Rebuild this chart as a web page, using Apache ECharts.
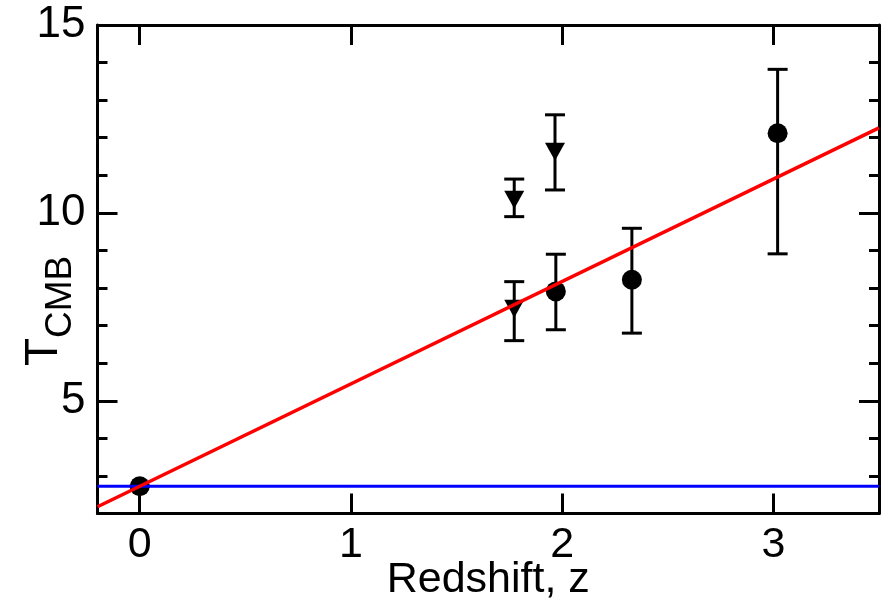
<!DOCTYPE html>
<html>
<head>
<meta charset="utf-8">
<script src="https://cdn.jsdelivr.net/npm/echarts@6/dist/echarts.min.js"></script>
<style>html,body{margin:0;padding:0;background:#fff}#c{width:887px;height:600px}</style>
</head>
<body>
<div id="c"></div>
<script>
// ---- data ----
const xTickValues = [0, 1, 2, 3];
const yTickValues = [5, 10, 15];
const xRange = [-0.2, 3.5];
const yRange = [2, 15];
const T0 = 2.725;                       // present-day CMB temperature (blue line)

// circles: z, T, lower, upper
const circZ  = [0, 1.97, 2.33, 3.02];
const circT  = [2.725, 7.91, 8.22, 12.12];
const circLo = [2.725, 6.89, 6.80, 8.91];
const circHi = [2.725, 8.90, 9.59, 13.82];

// down-triangles: z, T, lower, upper
const triZ  = [1.773, 1.773, 1.966];
const triT  = [10.35, 7.45, 11.63];
const triLo = [9.90, 6.60, 10.61];
const triHi = [10.90, 8.17, 12.61];

const xTitle = 'Redshift, z';
const yTitleMain = 'T';
const yTitleSub = 'CMB';

// ---- build ----
const font = 'Liberation Sans, Arial, Helvetica, sans-serif';
const circData = circZ.map((z, i) => [z, circT[i]]);
const triData = triZ.map((z, i) => [z, triT[i]]);
const errData = circZ.map((z, i) => [z, circLo[i], circHi[i]])
  .concat(triZ.map((z, i) => [z, triLo[i], triHi[i]]));
const blueData = xRange.map(z => [z, T0]);
const redData = xRange.map(z => [z, T0 * (1 + z)]);

const lineStyle = { color: '#000', width: 3 };
function xAx(pos, labels) {
  return {
    type: 'value', position: pos, min: xRange[0], max: xRange[1],
    axisLine: { show: true, onZero: false, lineStyle },
    axisTick: { show: true, inside: true, length: 20, lineStyle, customValues: xTickValues },
    axisLabel: labels ? { show: true, customValues: xTickValues, fontSize: 43, color: '#000', fontFamily: font, margin: 10 } : { show: false },
    splitLine: { show: false },
    name: labels ? xTitle : '',
    nameLocation: 'middle', nameGap: 45, nameMoveOverlap: false,
    nameTextStyle: { fontSize: 43, color: '#000', fontFamily: font }
  };
}
function yMaj(pos, labels) {
  return {
    type: 'value', position: pos, min: yRange[0], max: yRange[1],
    axisLine: { show: true, onZero: false, lineStyle },
    axisTick: { show: true, inside: true, length: 20, lineStyle, customValues: yTickValues },
    axisLabel: labels ? { show: true, customValues: yTickValues, fontSize: 44, color: '#000', fontFamily: font, margin: 12 } : { show: false },
    splitLine: { show: false }
  };
}
function yMin(pos) {
  return {
    type: 'value', position: pos, min: yRange[0], max: yRange[1], interval: 1,
    axisLine: { show: false, onZero: false },
    axisTick: { show: true, inside: true, length: 10, lineStyle },
    axisLabel: { show: false },
    splitLine: { show: false }
  };
}

const option = {
  animation: false,
  backgroundColor: '#fff',
  grid: { left: 97.5, right: 8, top: 25, bottom: 86.5, containLabel: false, outerBoundsMode: 'none' },
  xAxis: [xAx('bottom', true), xAx('top', false)],
  yAxis: [yMaj('left', true), yMaj('right', false), yMin('left'), yMin('right')],
  graphic: [
    {
      type: 'text', x: 44, y: 366, rotation: Math.PI / 2,
      style: { text: yTitleMain, fontSize: 46, fontFamily: font, fill: '#000', align: 'left', verticalAlign: 'middle' }
    },
    {
      type: 'text', x: 61, y: 338, rotation: Math.PI / 2,
      style: { text: yTitleSub, fontSize: 37, fontFamily: font, fill: '#000', align: 'left', verticalAlign: 'middle' }
    }
  ],
  series: [
    {
      type: 'custom', xAxisIndex: 0, yAxisIndex: 0, z: 2,
      data: errData,
      renderItem: function (params, api) {
        const lo = api.coord([api.value(0), api.value(1)]);
        const hi = api.coord([api.value(0), api.value(2)]);
        const w = 10;
        const st = { stroke: '#000', lineWidth: 3, fill: null };
        return {
          type: 'group',
          children: [
            { type: 'line', shape: { x1: lo[0], y1: lo[1], x2: hi[0], y2: hi[1] }, style: st },
            { type: 'line', shape: { x1: lo[0] - w, y1: lo[1], x2: lo[0] + w, y2: lo[1] }, style: st },
            { type: 'line', shape: { x1: hi[0] - w, y1: hi[1], x2: hi[0] + w, y2: hi[1] }, style: st }
          ]
        };
      }
    },
    {
      type: 'scatter', data: circData, symbol: 'circle', symbolSize: 20, z: 3,
      itemStyle: { color: '#000', opacity: 1 }
    },
    {
      type: 'scatter', data: triData, symbol: 'triangle', symbolRotate: 180, symbolSize: [20, 18], z: 3,
      itemStyle: { color: '#000', opacity: 1 }
    },
    {
      type: 'line', data: blueData, showSymbol: false, z: 4,
      lineStyle: { color: '#0000ff', width: 3 }
    },
    {
      type: 'line', data: redData, showSymbol: false, z: 5,
      lineStyle: { color: '#ff0000', width: 3.5 }
    }
  ]
};
const chart = echarts.init(document.getElementById('c'), null, { renderer: 'canvas' });
chart.setOption(option);
</script>
</body>
</html>
